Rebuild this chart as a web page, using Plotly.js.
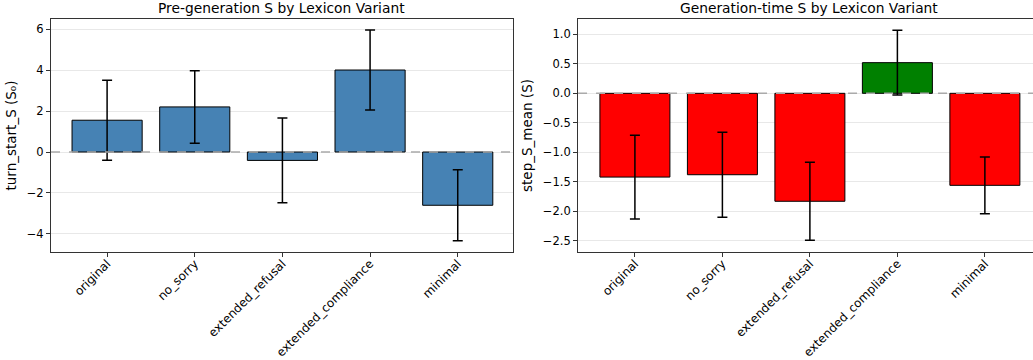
<!DOCTYPE html>
<html>
<head>
<meta charset="utf-8">
<script src="https://cdn.plot.ly/plotly-3.0.1.min.js"></script>
<style>
html,body{margin:0;padding:0;overflow:hidden;width:1033px;height:360px;background:#fff;}
#chart{width:1040px;height:360px;}
</style>
</head>
<body>
<div id="chart"></div>
<script>
const categories = ["original", "no_sorry", "extended_refusal", "extended_compliance", "minimal"];
const preValues = [1.55, 2.20, -0.41, 4.00, -2.60];
const preErrors = [1.95, 1.77, 2.07, 1.95, 1.73];
const genValues = [-1.42, -1.38, -1.83, 0.52, -1.56];
const genErrors = [0.71, 0.72, 0.66, 0.55, 0.48];
const preTicks = [-4, -2, 0, 2, 4, 6];
const genTicks = [-2.5, -2.0, -1.5, -1.0, -0.5, 0.0, 0.5, 1.0];

const FONT = "DejaVu Sans, sans-serif";
const errStyle = {type: "data", visible: true, color: "#000", thickness: 1.5, width: 5};

const traces = [
  {
    type: "bar", x: categories, y: preValues, xaxis: "x", yaxis: "y",
    marker: {color: "#4682B4", line: {color: "#000", width: 1}},
    width: 0.8,
    error_y: Object.assign({array: preErrors}, errStyle),
    hoverinfo: "none"
  },
  {
    type: "bar", x: categories, y: genValues, xaxis: "x2", yaxis: "y2",
    marker: {color: genValues.map(v => v >= 0 ? "#008000" : "#FF0000"), line: {color: "#000", width: 1}},
    width: 0.8,
    error_y: Object.assign({array: genErrors}, errStyle),
    hoverinfo: "none"
  }
];

const xCommon = {
  type: "category", tickangle: -45, ticks: "outside", ticklen: 4, tickcolor: "#333",
  showline: true, linecolor: "#333", linewidth: 1, mirror: true, ticklabelstandoff: -5,
  showgrid: false, zeroline: false, tickfont: {family: FONT, size: 12, color: "#000"}
};
const yCommon = {
  ticks: "outside", ticklen: 4, tickcolor: "#333",
  showline: true, linecolor: "#333", linewidth: 1, mirror: true,
  showgrid: true, gridcolor: "#e8e8e8", gridwidth: 1, zeroline: false,
  tickfont: {family: FONT, size: 11.5, color: "#000"}
};

const layout = {
  width: 1040, height: 360,
  margin: {l: 51, r: 0, t: 19, b: 108},
  paper_bgcolor: "#fff", plot_bgcolor: "#fff",
  showlegend: false, bargap: 0.2,
  font: {family: FONT, color: "#000"},
  xaxis: Object.assign({}, xCommon, {domain: [0, 0.4671], range: [-0.64, 4.63], anchor: "y"}),
  yaxis: Object.assign({}, yCommon, {range: [-4.88, 6.49], tickvals: preTicks,
    title: {text: "turn_start_S (S₀)", font: {family: FONT, size: 13.5}, standoff: 7}, anchor: "x"}),
  xaxis2: Object.assign({}, xCommon, {domain: [0.5329, 1], range: [-0.65, 4.63], anchor: "y2"}),
  yaxis2: Object.assign({}, yCommon, {range: [-2.69, 1.26], tickvals: genTicks, tickformat: ".1f",
    title: {text: "step_S_mean (S)", font: {family: FONT, size: 13.5}, standoff: 7}, anchor: "x2"}),
  shapes: [
    {type: "line", xref: "x domain", yref: "y", x0: 0, x1: 1, y0: 0, y1: 0,
      line: {color: "#aaaaaa", width: 1.5, dash: "dash"}},
    {type: "line", xref: "x2 domain", yref: "y2", x0: 0, x1: 1, y0: 0, y1: 0,
      line: {color: "#aaaaaa", width: 1.5, dash: "dash"}}
  ],
  annotations: [
    {text: "Pre-generation S by Lexicon Variant", xref: "x domain", yref: "y domain", x: 0.5, y: 1,
      yanchor: "bottom", yshift: 1, showarrow: false, font: {family: FONT, size: 13.8, color: "#000"}},
    {text: "Generation-time S by Lexicon Variant", xref: "x2 domain", yref: "y2 domain", x: 0.5, y: 1,
      yanchor: "bottom", yshift: 1, showarrow: false, font: {family: FONT, size: 13.8, color: "#000"}}
  ]
};

Plotly.newPlot("chart", traces, layout, {displayModeBar: false, staticPlot: true});
</script>
</body>
</html>
